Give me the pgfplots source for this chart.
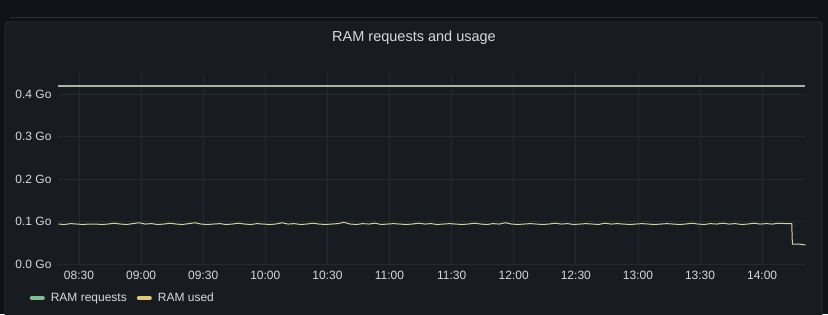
\documentclass[border=0pt]{standalone}
\usepackage{fontspec}
\setmainfont{Liberation Sans}
\usepackage{pgfplots}
\pgfplotsset{compat=1.18}
\definecolor{bgout}{HTML}{111217}
\definecolor{panel}{HTML}{181B1F}
\definecolor{panelborder}{HTML}{2A2D33}
\definecolor{gridc}{HTML}{26292F}
\definecolor{txt}{HTML}{D8D9DA}
\definecolor{reqline}{HTML}{A9B5A3}
\definecolor{usedline}{HTML}{D6D2A0}
\definecolor{reqleg}{HTML}{7DBF8E}
\definecolor{usedleg}{HTML}{D8CD75}
\begin{document}
\begin{tikzpicture}[x=1pt,y=1pt]
\useasboundingbox (0,0) rectangle (828,314);
\fill[bgout] (0,0) rectangle (828,314);
\draw[panelborder,line width=0.8pt] (10,297) -- (818,297);
\begin{scope}
\clip (0,0) rectangle (828,314);
\fill[panel,draw=panelborder,line width=0.8pt,rounded corners=3pt] (5,-5) rectangle (822,292);
\end{scope}
\node[text=txt,font=\fontsize{14.5}{16}\selectfont] at (414,276) {RAM requests and usage};
\begin{axis}[
  at={(58pt,50pt)}, anchor=south west,
  scale only axis, width=747pt, height=191.25pt,
  xmin=19.86, xmax=380.7, ymin=0, ymax=0.45,
  axis line style={draw=none},
  tick style={draw=none},
  grid=major,
  major grid style={gridc, line width=0.8pt},
  xtick={30,60,90,120,150,180,210,240,270,300,330,360},
  xticklabels={08:30,09:00,09:30,10:00,10:30,11:00,11:30,12:00,12:30,13:00,13:30,14:00},
  ytick={0,0.1,0.2,0.3,0.4},
  yticklabels={0.0 Go,0.1 Go,0.2 Go,0.3 Go,0.4 Go},
  ticklabel style={text=txt, font=\fontsize{12}{14}\selectfont},
  xticklabel style={yshift=-4pt},
  yticklabel style={anchor=east, xshift=-3pt},
  legend columns=2,
  legend style={at={(-0.042,-0.178)}, anchor=west, draw=none, fill=none,
    text=txt, font=\fontsize{12}{14}\selectfont,
    /tikz/every even column/.append style={column sep=8pt}},
  legend image code/.code={\path[draw=none,fill=none] (0pt,0pt) -- (17pt,0pt);\draw[line width=4pt, line cap=round, #1] (0pt,0pt) -- (11pt,0pt);},
  clip=false,
]
\addplot[reqline, line width=1.4pt, forget plot] coordinates {(19.86,0.419) (380.7,0.419)};
\addplot[usedline, line width=1pt, forget plot] coordinates {
(20,0.094) (23,0.093) (26,0.095) (29,0.094) (32,0.093) (35,0.094) (38,0.094) (41,0.093)
(44,0.094) (47,0.096) (50,0.094) (53,0.093) (56,0.095) (59,0.097) (62,0.094) (65,0.095)
(68,0.093) (71,0.094) (74,0.096) (77,0.094) (80,0.093) (83,0.095) (86,0.097) (89,0.094)
(92,0.093) (95,0.094) (98,0.095) (101,0.093) (104,0.094) (107,0.096) (110,0.094) (113,0.093)
(116,0.095) (119,0.094) (122,0.093) (125,0.094) (128,0.097) (131,0.094) (134,0.095) (137,0.093)
(140,0.094) (143,0.096) (146,0.094) (149,0.093) (152,0.094) (155,0.095) (158,0.098) (161,0.094)
(164,0.093) (167,0.095) (170,0.094) (173,0.096) (176,0.093) (179,0.094) (182,0.095) (185,0.094)
(188,0.093) (191,0.094) (194,0.096) (197,0.094) (200,0.095) (203,0.093) (206,0.094) (209,0.095)
(212,0.094) (215,0.093) (218,0.094) (221,0.096) (224,0.094) (227,0.093) (230,0.095) (233,0.094)
(236,0.097) (239,0.094) (242,0.093) (245,0.094) (248,0.095) (251,0.094) (254,0.093) (257,0.094)
(260,0.096) (263,0.094) (266,0.095) (269,0.093) (272,0.094) (275,0.095) (278,0.094) (281,0.093)
(284,0.096) (287,0.094) (290,0.095) (293,0.094) (296,0.093) (299,0.094) (302,0.095) (305,0.094)
(308,0.093) (311,0.094) (314,0.095) (317,0.094) (320,0.093) (323,0.094) (326,0.096) (329,0.094)
(332,0.093) (335,0.095) (338,0.094) (341,0.096) (344,0.094) (347,0.095) (350,0.093) (353,0.094)
(356,0.096) (359,0.094) (362,0.095) (365,0.094) (368,0.096) (371,0.095) (374.3,0.095)
(374.6,0.047) (376,0.047) (378,0.047) (379,0.046) (381,0.045)
};
\addlegendimage{reqleg}
\addlegendentry{RAM requests}
\addlegendimage{usedleg}
\addlegendentry{RAM used}
\end{axis}
\end{tikzpicture}
\end{document}
